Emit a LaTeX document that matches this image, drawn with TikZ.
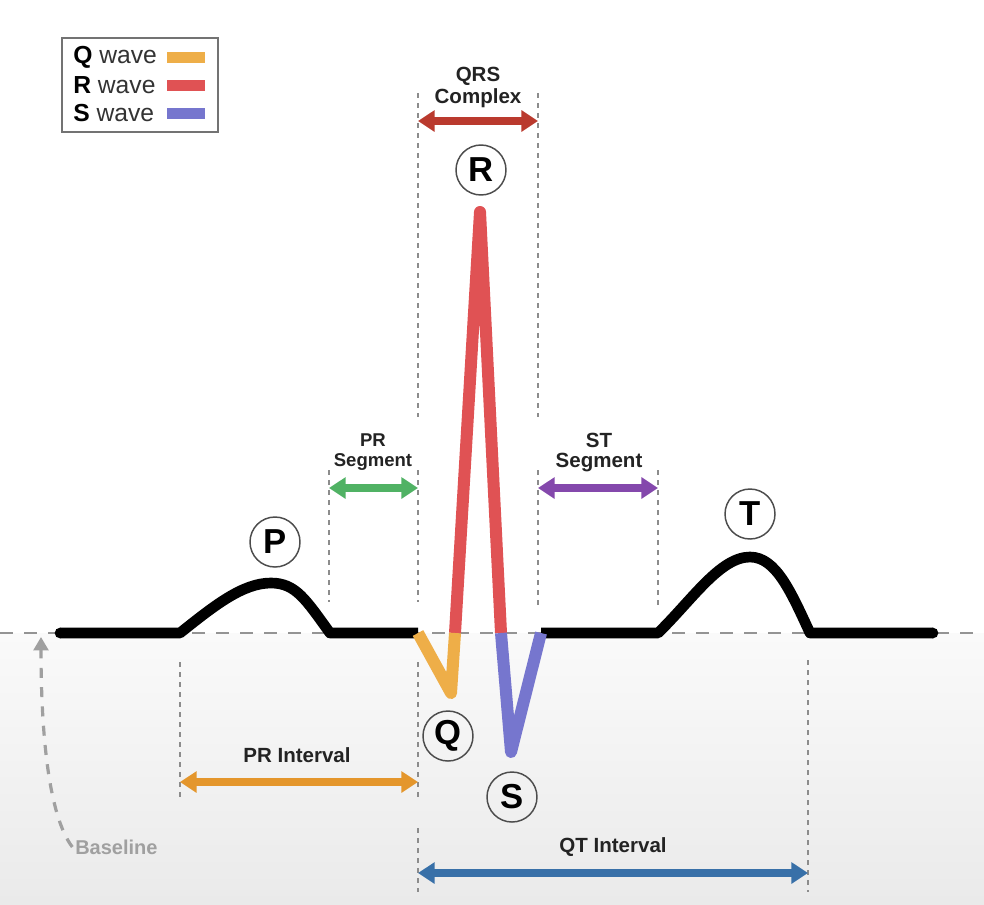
\documentclass[tikz,border=0pt]{standalone}
\usepackage{fontspec}
\setmainfont{Liberation Sans}
\usetikzlibrary{arrows.meta}
\definecolor{qcol}{RGB}{238,174,72}
\definecolor{rcol}{RGB}{224,82,84}
\definecolor{scol}{RGB}{118,118,206}
\definecolor{qrscol}{RGB}{186,58,46}
\definecolor{prsegcol}{RGB}{80,178,100}
\definecolor{stsegcol}{RGB}{132,72,172}
\definecolor{pricol}{RGB}{228,150,44}
\definecolor{qticol}{RGB}{56,112,168}
\definecolor{guide}{RGB}{140,140,140}
\definecolor{txt}{RGB}{35,35,35}
\definecolor{bgtop}{RGB}{250,250,250}
\definecolor{bgbot}{RGB}{234,234,234}
\definecolor{blgray}{RGB}{160,160,160}
\begin{document}
\begin{tikzpicture}[x=0.75pt,y=-0.75pt,
  blackwave/.style={line width=8pt, line join=round, line cap=butt},
  colwave/.style={line width=9pt, line join=round, line cap=butt},
  guideline/.style={draw=guide, line width=1.4pt, dash pattern=on 3.5pt off 4pt},
  dbl/.style={line width=6pt, {Triangle[length=12.5pt,width=15.5pt]}-{Triangle[length=12.5pt,width=15.5pt]}},
  circ/.style={circle, draw=black!70, line width=1.1pt, minimum size=37.5pt, inner sep=0pt, font=\fontsize{26}{26}\selectfont\bfseries},
  lab/.style={text=txt, align=center, inner sep=0pt},
  legtext/.style={anchor=west, inner sep=0pt, font=\fontsize{18.5}{20}\selectfont, text=black!80}
]
\useasboundingbox (0,0) rectangle (984,904);
% background
\fill[white] (0,0) rectangle (984,633);
\shade[top color=bgtop, bottom color=bgbot] (0,633) rectangle (984,904);

% baseline
\coordinate (bl0) at (0,633);
\coordinate (bl1) at (984,633);
\draw[draw=black!42, line width=1.5pt, dash pattern=on 10pt off 8pt] (bl0) -- (bl1);

% guide coordinates
\coordinate (g1a) at (418,93);  \coordinate (g1b) at (418,417);
\coordinate (g2a) at (538,93);  \coordinate (g2b) at (538,417);
\coordinate (g3a) at (329,470); \coordinate (g3b) at (329,602);
\coordinate (g4a) at (418,470); \coordinate (g4b) at (418,602);
\coordinate (g5a) at (538,470); \coordinate (g5b) at (538,605);
\coordinate (g6a) at (658,470); \coordinate (g6b) at (658,605);
\coordinate (g7a) at (180,662); \coordinate (g7b) at (180,797);
\coordinate (g8a) at (418,662); \coordinate (g8b) at (418,798);
\coordinate (g9a) at (418,828); \coordinate (g9b) at (418,892);
\coordinate (g10a) at (808,660); \coordinate (g10b) at (808,892);
\foreach \g in {1,...,10} \draw[guideline] (g\g a) -- (g\g b);

% trace points
\coordinate (t0) at (60,633);
\coordinate (p0) at (180,633);
\coordinate (ppk) at (271,583);
\coordinate (p1) at (330,633);
\coordinate (q0) at (418,633);
\coordinate (qb) at (451,693);
\coordinate (q1) at (455,633);
\coordinate (rpk) at (480,212);
\coordinate (r1) at (501,633);
\coordinate (sb) at (511,752);
\coordinate (s1) at (541,633);
\coordinate (t1) at (658,633);
\coordinate (tpk) at (750,557);
\coordinate (t2) at (810,633);
\coordinate (te) at (933,633);

\draw[blackwave] (t0) -- (p0) .. controls (215,605) and (243,583) .. (ppk) .. controls (296,583) and (306,600) .. (p1) -- (q0);
\draw[blackwave] (s1) -- (t1) .. controls (692,600) and (720,557) .. (tpk) .. controls (776,557) and (791,592) .. (t2) -- (te);
\fill[black] (t0) circle[radius=4pt];
\fill[black] (te) circle[radius=4pt];
\draw[colwave, rcol] (q1) -- (rpk) -- (r1);
\draw[colwave, qcol] (q0) -- (qb) -- (q1);
\draw[colwave, scol] (r1) -- (sb) -- (s1);

% wave letters
\node[circ] (P) at (275,542) {P};
\node[circ] (R) at (481,170) {R};
\node[circ] (T) at (750,514) {T};
\node[circ] (Q) at (448,736) {Q};
\node[circ] (S) at (512,797) {S};

% legend
\node[draw=black!55, line width=1pt, minimum width=117pt, minimum height=70.5pt, inner sep=0pt] (legend) at (140,85) {};
\node[legtext] (lq) at (73,57) {\textbf{\color{black}Q} wave};
\node[legtext] (lr) at (73,85) {\textbf{\color{black}R} wave};
\node[legtext] (ls) at (73,113) {\textbf{\color{black}S} wave};
\fill[qcol] (167,52) rectangle (205,63);
\fill[rcol] (167,80) rectangle (205,91);
\fill[scol] (167,108) rectangle (205,119);

% QRS complex
\node[lab, font=\fontsize{15.4}{16.5}\selectfont\bfseries] (qrslab) at (478,87) {QRS\\Complex};
\coordinate (qrsL) at (418,121); \coordinate (qrsR) at (538,121);
\draw[dbl, qrscol] (qrsL) -- (qrsR);

% PR segment
\node[lab, font=\fontsize{13.9}{15}\selectfont\bfseries] (prseglab) at (373,452) {PR\\Segment};
\coordinate (prsL) at (329,488); \coordinate (prsR) at (418,488);
\draw[dbl, prsegcol] (prsL) -- (prsR);

% ST segment
\node[lab, font=\fontsize{15.4}{15}\selectfont\bfseries] (stseglab) at (599,452) {ST\\Segment};
\coordinate (stsL) at (538,488); \coordinate (stsR) at (658,488);
\draw[dbl, stsegcol] (stsL) -- (stsR);

% PR interval
\node[lab, font=\fontsize{15.4}{16}\selectfont\bfseries] (prilab) at (297,755) {PR Interval};
\coordinate (priL) at (180,782); \coordinate (priR) at (418,782);
\draw[dbl, pricol] (priL) -- (priR);

% QT interval
\node[lab, font=\fontsize{15.4}{16}\selectfont\bfseries] (qtilab) at (613,847) {QT Interval};
\coordinate (qtiL) at (418,873); \coordinate (qtiR) at (808,873);
\draw[dbl, qticol] (qtiL) -- (qtiR);

% Baseline label
\node[anchor=west, inner sep=0pt, text=blgray, font=\fontsize{15}{16}\selectfont\bfseries] (bltext) at (75,847) {Baseline};
\coordinate (baseTip) at (41,637);
\draw[blgray, line width=2.4pt, dash pattern=on 7.5pt off 7pt, -{Triangle[length=10pt,width=11pt]}] ([xshift=-2pt]bltext.west) .. controls (48,815) and (41,730) .. (baseTip);
\end{tikzpicture}
\end{document}
